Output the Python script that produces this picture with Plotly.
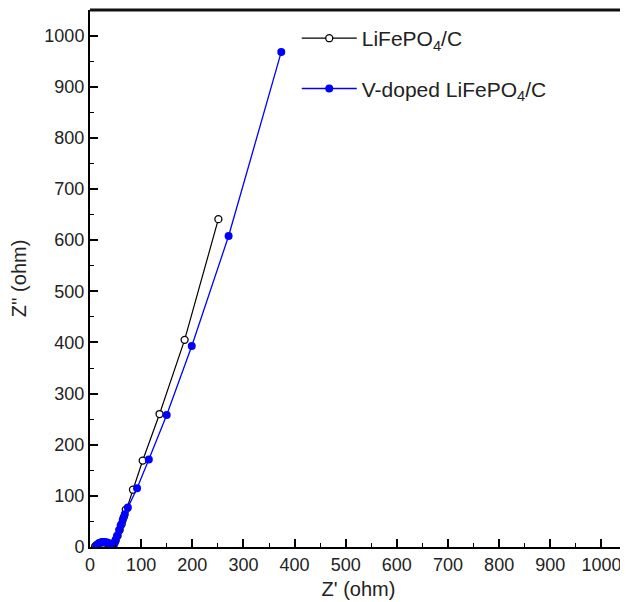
import plotly.graph_objects as go

# LiFePO4/C (Z', Z'')
lfp_x = [10, 13, 17, 22, 27, 32, 37, 41, 44, 47, 50, 54, 58, 62, 66, 70, 84, 103, 136, 185, 251]
lfp_y = [1, 4, 7, 9, 9, 8, 6, 4, 3, 6, 12, 22, 33, 45, 58, 73, 112, 169, 260, 405, 641]

# V-doped LiFePO4/C
v_x = [12, 15, 19, 24, 29, 34, 39, 43, 46, 48, 50, 53, 57, 60, 64, 68, 74, 92, 115, 150, 199, 271, 374]
v_y = [1, 5, 8, 10, 10, 9, 7, 5, 4, 8, 14, 22, 33, 42, 53, 64, 77, 115, 171, 258, 393, 608, 968]

tick_vals = list(range(0, 1001, 100))
tick_text = [str(v) for v in tick_vals]

FONT = "Liberation Sans, Arial, sans-serif"

fig = go.Figure()
fig.add_trace(go.Scatter(
    x=lfp_x, y=lfp_y, mode="lines+markers", name="LiFePO<sub>4</sub>/C",
    line=dict(color="black", width=1.2),
    marker=dict(symbol="circle", size=7, color="white", line=dict(color="black", width=1.3)),
    legendgroup="a",
))
fig.add_trace(go.Scatter(
    x=v_x, y=v_y, mode="lines+markers", name="V-doped LiFePO<sub>4</sub>/C",
    line=dict(color="#0000ff", width=1.3),
    marker=dict(symbol="circle", size=8, color="#0000ff"),
    legendgroup="b",
))

axis_common = dict(
    range=[0, 1050], tickvals=tick_vals, ticktext=tick_text,
    ticks="inside", ticklen=8, tickwidth=1.5, tickcolor="black",
    minor=dict(dtick=50, tick0=0, ticks="inside", ticklen=4, tickwidth=1.2, tickcolor="black"),
    showline=True, linecolor="black", linewidth=2,
    showgrid=False, zeroline=False,
    tickfont=dict(family=FONT, size=18, color="#222"),
)

fig.update_xaxes(**axis_common,
                 title=dict(text="Z' (ohm)", font=dict(family=FONT, size=20, color="#222"), standoff=8))
fig.update_yaxes(**axis_common,
                 title=dict(text="Z'' (ohm)", font=dict(family=FONT, size=20, color="#222"), standoff=12))

# top (thick) and right (thin grey) frame lines
fig.add_shape(type="line", xref="paper", yref="paper", x0=0, x1=1, y0=1, y1=1,
              line=dict(color="#111", width=3))
fig.add_shape(type="line", xref="paper", yref="paper", x0=1, x1=1, y0=0, y1=1,
              line=dict(color="#888", width=1))

# page body has an 8px margin, so the figure is sized/offset to compensate
fig.update_layout(
    width=620, height=594,
    margin=dict(l=82, r=1, t=2, b=55),
    plot_bgcolor="white", paper_bgcolor="white",
    showlegend=True,
    legend=dict(x=0.385, y=0.985, xanchor="left", yanchor="top",
                bgcolor="rgba(0,0,0,0)", borderwidth=0,
                font=dict(family=FONT, size=21, color="#222"),
                itemwidth=55, tracegroupgap=20),
)

fig.write_html("out.html")
